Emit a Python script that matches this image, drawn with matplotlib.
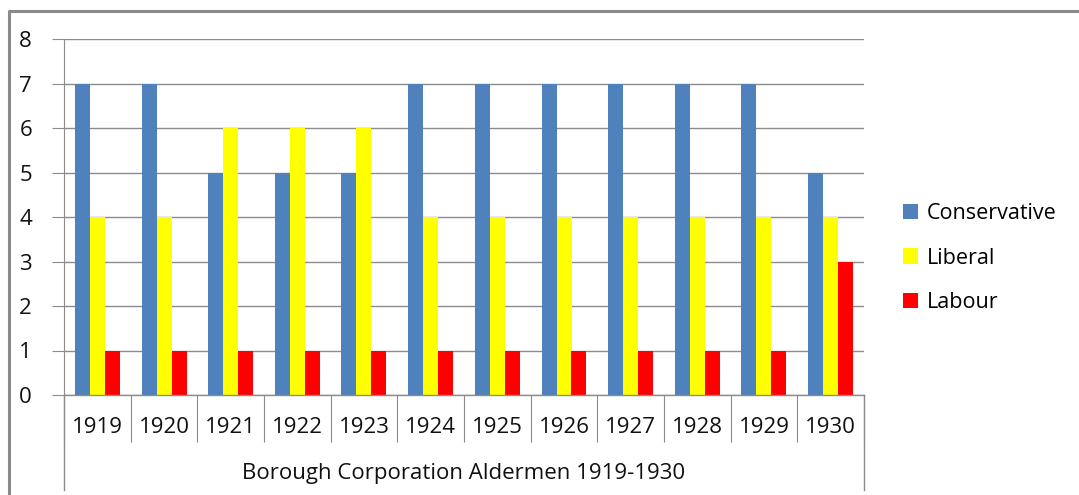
import numpy as np
import matplotlib
matplotlib.use("Agg")
import matplotlib.pyplot as plt
from matplotlib.lines import Line2D

# chart values
YEARS = ["1919", "1920", "1921", "1922", "1923", "1924",
         "1925", "1926", "1927", "1928", "1929", "1930"]
CONSERVATIVE = [7, 7, 5, 5, 5, 7, 7, 7, 7, 7, 7, 5]
LIBERAL = [4, 4, 6, 6, 6, 4, 4, 4, 4, 4, 4, 4]
LABOUR = [1, 1, 1, 1, 1, 1, 1, 1, 1, 1, 1, 3]
GROUP_LABEL = "Borough Corporation Aldermen 1919-1930"

SERIES = [
    ("Conservative", "#4F81BD", CONSERVATIVE),
    ("Liberal", "#FFFF00", LIBERAL),
    ("Labour", "#FF0000", LABOUR),
]
GRID = "#8C8C8C"
W, H = 1079, 495
BAR_W = 0.225

plt.rcParams["font.family"] = ["Open Sans", "DejaVu Sans"]

fig = plt.figure(figsize=(W / 100, H / 100), dpi=100)
ax = fig.add_axes([64 / W, 1 - 395 / H, 800 / W, 356 / H])

x = np.arange(len(YEARS))
for i, (label, color, vals) in enumerate(SERIES):
    ax.bar(x + (i - 1) * BAR_W, vals, width=BAR_W, color=color,
           label=label, zorder=2)

ax.set_xlim(-0.5, len(YEARS) - 0.5)
ax.set_ylim(0, 8)
ax.set_yticks(range(9))
ax.grid(axis="y", color=GRID, lw=1, zorder=0)
for s in ["top", "right", "bottom"]:
    ax.spines[s].set_visible(False)
ax.spines["left"].set_color(GRID)
ax.axhline(0, color=GRID, lw=1, zorder=3, clip_on=False)
ax.tick_params(axis="y", length=9, color=GRID, pad=14, labelsize=16,
               labelcolor="#111111")

# category boxes under the axis
ax.set_xticks(np.arange(len(YEARS) + 1) - 0.5)
ax.set_xticklabels([])
ax.tick_params(axis="x", which="major", length=34, color=GRID, direction="out")
ax.set_xticks(x, minor=True)
ax.set_xticklabels(YEARS, minor=True)
ax.tick_params(axis="x", which="minor", length=0, pad=16, labelsize=16,
               labelcolor="#111111")

tr = ax.get_xaxis_transform()
drop = -(490 - 395) / 356
for edge in (-0.5, len(YEARS) - 0.5):
    ax.plot([edge, edge], [0, drop], transform=tr, color=GRID, lw=1,
            clip_on=False)
ax.text((len(YEARS) - 1) / 2, -(473 - 395) / 356, GROUP_LABEL, transform=tr,
        ha="center", va="center", fontsize=16, color="#111111")

fig.legend(loc="center left", bbox_to_anchor=(884 / W, 1 - 258 / H),
           frameon=False, fontsize=15.5, handlelength=0.7, handleheight=0.7,
           handletextpad=0.4, labelspacing=1.1)

# outer frame: only top and left edges show in the reference
fig.lines.append(Line2D([9 / W, 9 / W, 1], [0, 1 - 11 / H, 1 - 11 / H],
                        transform=fig.transFigure, color="#8A8A8A", lw=2.2))

fig.savefig("out.png", dpi=100)
